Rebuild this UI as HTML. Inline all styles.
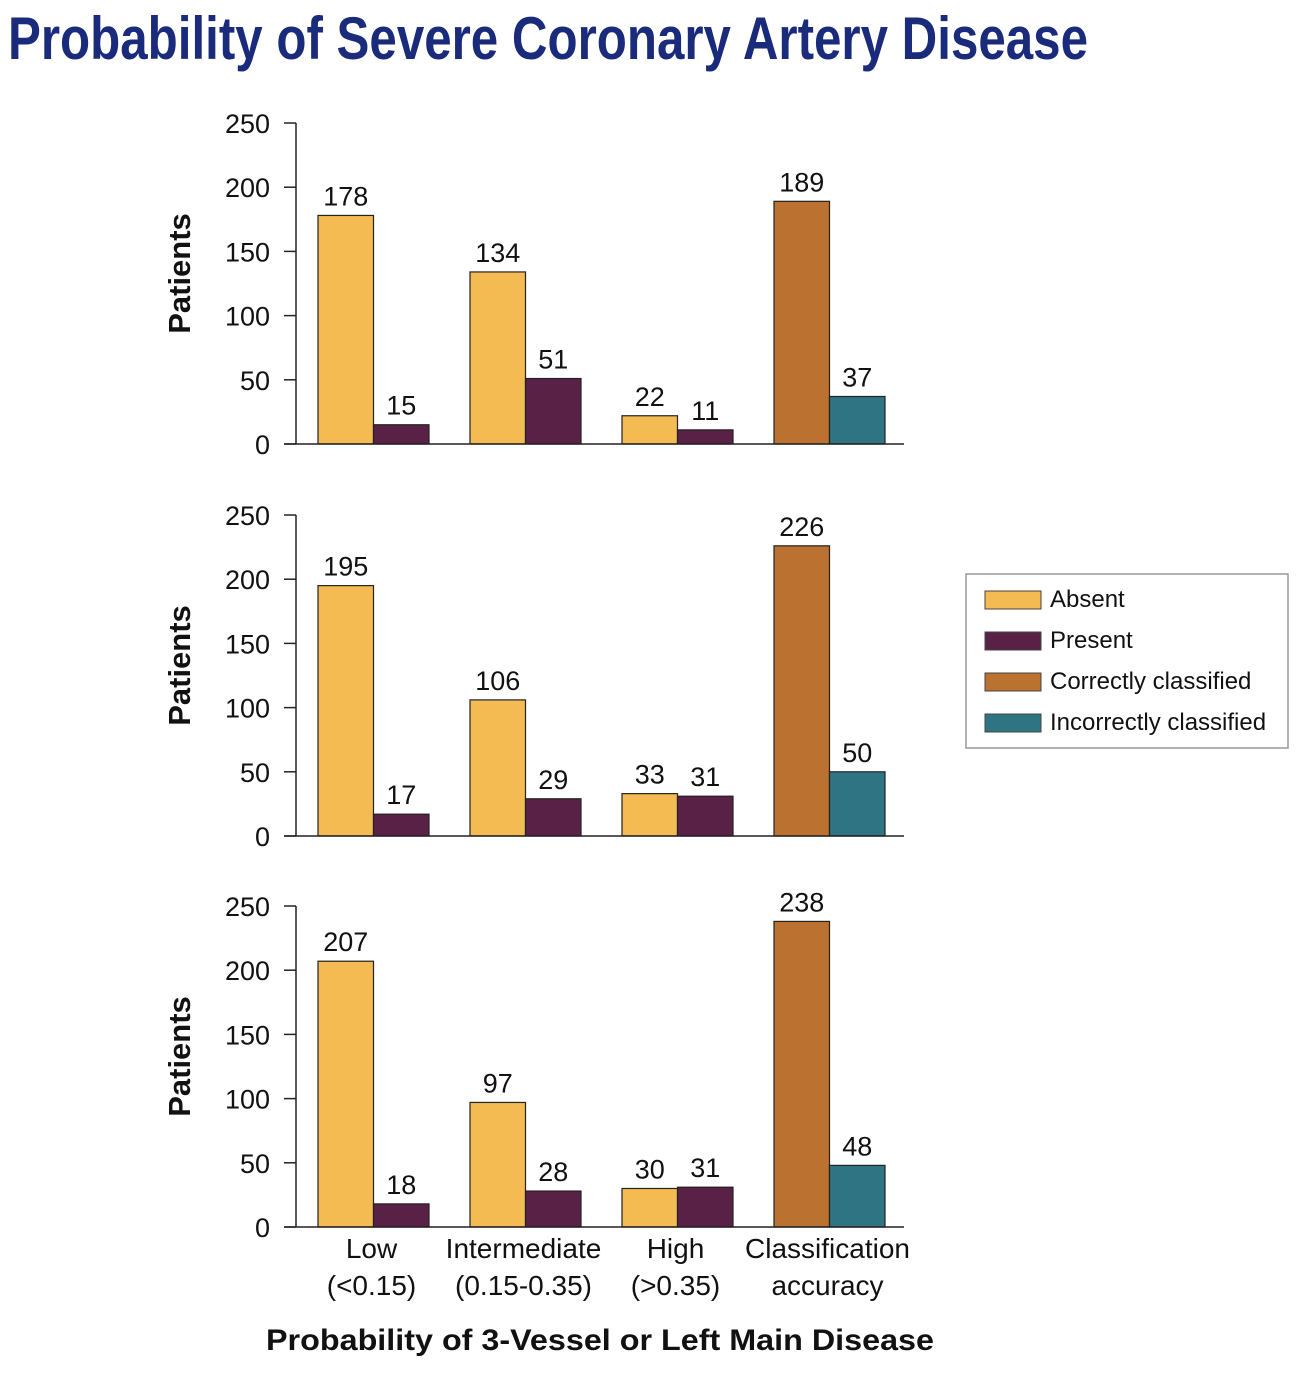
<!DOCTYPE html>
<html><head><meta charset="utf-8"><style>
body{margin:0;background:#fff;}
svg text{font-family:"Liberation Sans",sans-serif;}
</style></head><body>
<svg id="c" width="1308" height="1384" xmlns="http://www.w3.org/2000/svg">
<text x="8" y="59" font-size="60" font-weight="bold" fill="#1b2b7c" textLength="1080" lengthAdjust="spacingAndGlyphs">Probability of Severe Coronary Artery Disease</text>
<g id="legend">
<rect x="966" y="574" width="322" height="174" fill="#fff" stroke="#999" stroke-width="1.5"/>
</g>
<text x="266" y="1350" font-size="30" font-weight="bold" fill="#111" textLength="668" lengthAdjust="spacingAndGlyphs">Probability of 3-Vessel or Left Main Disease</text>
</svg>
<script>
const categories = ["Low|(<0.15)", "Intermediate|(0.15-0.35)", "High|(>0.35)", "Classification|accuracy"];
const yTicks = [0, 50, 100, 150, 200, 250];
const panel1Absent = [178, 134, 22];
const panel1Present = [15, 51, 11];
const panel1Accuracy = [189, 37];
const panel2Absent = [195, 106, 33];
const panel2Present = [17, 29, 31];
const panel2Accuracy = [226, 50];
const panel3Absent = [207, 97, 30];
const panel3Present = [18, 28, 31];
const panel3Accuracy = [238, 48];
const legendLabels = ["Absent", "Present", "Correctly classified", "Incorrectly classified"];

const colors = ["#f4bb52", "#5a2146", "#bb712f", "#2f7483"];
const NS = "http://www.w3.org/2000/svg";
const svg = document.getElementById('c');
function mk(tag, attrs, parent) {
  const e = document.createElementNS(NS, tag);
  for (const k in attrs) e.setAttribute(k, attrs[k]);
  (parent || svg).appendChild(e);
  return e;
}
const panels = [
  {base: 444, top: 123, absent: panel1Absent, present: panel1Present, acc: panel1Accuracy},
  {base: 836, top: 515, absent: panel2Absent, present: panel2Present, acc: panel2Accuracy},
  {base: 1227, top: 906, absent: panel3Absent, present: panel3Present, acc: panel3Accuracy}
];
const groupX = [318, 470, 622, 774];
const bw = 55.5;
panels.forEach((p, pi) => {
  const g = mk('g', {});
  
  
  const y = v => p.base - v * (p.base - p.top) / 250;
  const ax = mk('line', {x1: 296, x2: 296, y1: p.top, y2: p.base, stroke: '#222', 'stroke-width': 1.5}, g);
  
  
  yTicks.forEach(t => {
    const tl = mk('line', {x1: 284, x2: 296, y1: y(t), y2: y(t), stroke: '#222', 'stroke-width': 1.5}, g);
    
    
    const tx = mk('text', {x: 270, y: y(t) + 10, 'font-size': 27, 'text-anchor': 'end', fill: '#111'}, g);
    tx.textContent = t;
    
    
  });
  const yt = mk('text', {x: 0, y: 0, 'font-size': 31, 'font-weight': 'bold', 'text-anchor': 'middle', fill: '#111', transform: `translate(190,${(p.base + p.top) / 2 - 10}) rotate(-90)`}, g);
  yt.textContent = 'Patients';
  
  
  const bars = [];
  for (let i = 0; i < 3; i++) {
    bars.push([groupX[i], p.absent[i], 0, 'absent']);
    bars.push([groupX[i] + bw, p.present[i], 1, 'present']);
  }
  bars.push([groupX[3], p.acc[0], 2, 'correct']);
  bars.push([groupX[3] + bw, p.acc[1], 3, 'incorrect']);
  bars.forEach(b => {
    const r = mk('rect', {x: b[0], y: y(b[1]), width: bw, height: p.base - y(b[1]), fill: colors[b[2]], stroke: '#222', 'stroke-width': 1.2}, g);
    
    
    const t = mk('text', {x: b[0] + bw / 2, y: y(b[1]) - 10, 'font-size': 27, 'text-anchor': 'middle', fill: '#111'}, g);
    t.textContent = b[1];
    
    
  });
  const bl = mk('line', {x1: 284, x2: 904, y1: p.base, y2: p.base, stroke: '#222', 'stroke-width': 1.5}, g);
  
  
});
categories.forEach((c, i) => {
  const parts = c.split('|');
  parts.forEach((s, j) => {
    const t = mk('text', {x: groupX[i] + bw - 2, y: 1258 + j * 37, 'font-size': 28, 'text-anchor': 'middle', fill: '#111'});
    t.textContent = s;
    
    
  });
});
const lg = document.getElementById('legend');
legendLabels.forEach((l, i) => {
  const yy = 591 + i * 41;
  const r = mk('rect', {x: 985, y: yy, width: 56, height: 18, fill: colors[i], stroke: '#444', 'stroke-width': 1}, lg);
  
  
  const t = mk('text', {x: 1050, y: yy + 16, 'font-size': 24, fill: '#111'}, lg);
  t.textContent = l;
  
  
});
</script>
</body></html>
